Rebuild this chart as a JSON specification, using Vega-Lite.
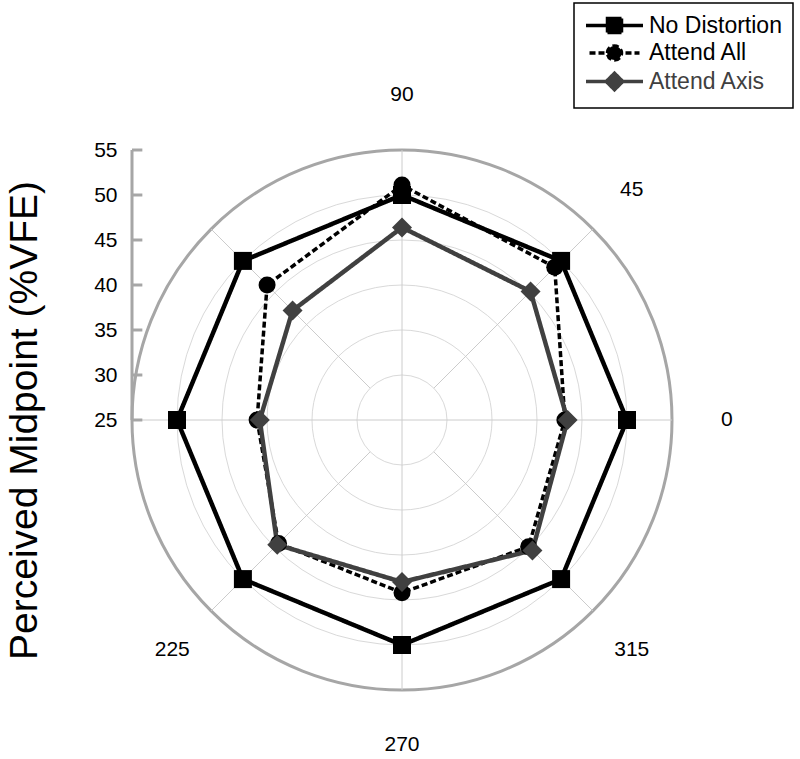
{
  "$schema": "https://vega.github.io/schema/vega-lite/v6.json",
  "width": 540,
  "height": 540,
  "autosize": {"type": "none"},
  "padding": {"left": 132, "top": 150, "right": 128, "bottom": 69},
  "config": {"view": {"stroke": null}, "font": "Liberation Sans"},
  "resolve": {
    "scale": {"size": "independent"},
    "axis": {"x": "independent", "y": "independent"}
  },
  "datasets": {
    "levels": [
      {"level": 25}, {"level": 30}, {"level": 35}, {"level": 40},
      {"level": 45}, {"level": 50}, {"level": 55}
    ],
    "angles": [
      {"angle": 0, "label": "0"}, {"angle": 45, "label": "45"},
      {"angle": 90, "label": "90"}, {"angle": 135, "label": "135"},
      {"angle": 180, "label": "180"}, {"angle": 225, "label": "225"},
      {"angle": 270, "label": "270"}, {"angle": 315, "label": "315"}
    ],
    "results": [
      {"series": "Attend All", "angle": 0, "value": 43.1},
      {"series": "Attend All", "angle": 45, "value": 49.0},
      {"series": "Attend All", "angle": 90, "value": 51.1},
      {"series": "Attend All", "angle": 135, "value": 46.2},
      {"series": "Attend All", "angle": 180, "value": 41.1},
      {"series": "Attend All", "angle": 225, "value": 44.4},
      {"series": "Attend All", "angle": 270, "value": 44.2},
      {"series": "Attend All", "angle": 315, "value": 44.9},
      {"series": "Attend Axis", "angle": 0, "value": 43.4},
      {"series": "Attend Axis", "angle": 45, "value": 45.2},
      {"series": "Attend Axis", "angle": 90, "value": 46.4},
      {"series": "Attend Axis", "angle": 135, "value": 42.2},
      {"series": "Attend Axis", "angle": 180, "value": 40.8},
      {"series": "Attend Axis", "angle": 225, "value": 44.6},
      {"series": "Attend Axis", "angle": 270, "value": 43.0},
      {"series": "Attend Axis", "angle": 315, "value": 45.5},
      {"series": "No Distortion", "angle": 0, "value": 50},
      {"series": "No Distortion", "angle": 45, "value": 50},
      {"series": "No Distortion", "angle": 90, "value": 50},
      {"series": "No Distortion", "angle": 135, "value": 50},
      {"series": "No Distortion", "angle": 180, "value": 50},
      {"series": "No Distortion", "angle": 225, "value": 50},
      {"series": "No Distortion", "angle": 270, "value": 50},
      {"series": "No Distortion", "angle": 315, "value": 50}
    ]
  },
  "layer": [
    {
      "data": {"name": "levels"},
      "transform": [
        {"filter": "datum.level > 25 && datum.level < 55"},
        {"calculate": "datum.level - 25", "as": "r"}
      ],
      "mark": {"type": "point", "shape": "circle", "filled": false, "stroke": "#d9d9d9", "strokeWidth": 1, "opacity": 1},
      "encoding": {
        "x": {"datum": 0, "type": "quantitative", "scale": {"domain": [-30, 30]}, "axis": null},
        "y": {"datum": 0, "type": "quantitative", "scale": {"domain": [-30, 30]}, "axis": null},
        "size": {"field": "r", "type": "quantitative", "scale": {"type": "pow", "exponent": 2, "domain": [0, 30], "range": [0, 291600]}, "legend": null}
      }
    },
    {
      "data": {"name": "levels"},
      "transform": [
        {"filter": "datum.level == 55"},
        {"calculate": "datum.level - 25", "as": "r"}
      ],
      "mark": {"type": "point", "shape": "circle", "filled": false, "stroke": "#a6a6a6", "strokeWidth": 3, "opacity": 1},
      "encoding": {
        "x": {"datum": 0, "type": "quantitative", "scale": {"domain": [-30, 30]}, "axis": null},
        "y": {"datum": 0, "type": "quantitative", "scale": {"domain": [-30, 30]}, "axis": null},
        "size": {"field": "r", "type": "quantitative", "scale": {"type": "pow", "exponent": 2, "domain": [0, 30], "range": [0, 291600]}, "legend": null}
      }
    },
    {
      "data": {"name": "angles"},
      "transform": [
        {"calculate": "datum.angle % 90 == 0 ? 0 : 5", "as": "r0"},
        {"calculate": "datum.r0 * cos(datum.angle * PI / 180)", "as": "x0"},
        {"calculate": "datum.r0 * sin(datum.angle * PI / 180)", "as": "y0"},
        {"calculate": "30 * cos(datum.angle * PI / 180)", "as": "x1"},
        {"calculate": "30 * sin(datum.angle * PI / 180)", "as": "y1"}
      ],
      "mark": {"type": "rule", "stroke": "#cccccc", "strokeWidth": 1},
      "encoding": {
        "x": {"field": "x0", "type": "quantitative", "scale": {"domain": [-30, 30]}, "axis": null},
        "y": {"field": "y0", "type": "quantitative", "scale": {"domain": [-30, 30]}, "axis": null},
        "x2": {"field": "x1"},
        "y2": {"field": "y1"}
      }
    },
    {
      "data": {"name": "levels"},
      "transform": [{"calculate": "datum.level - 25", "as": "r"}],
      "mark": {"type": "rule", "stroke": "#a6a6a6", "strokeWidth": 3},
      "encoding": {
        "x": {"datum": -30, "type": "quantitative", "scale": {"domain": [-30, 30]}, "axis": null},
        "x2": {"datum": -28.85},
        "y": {
          "field": "r", "type": "quantitative", "scale": {"domain": [-30, 30]},
          "axis": {
            "values": [0, 5, 10, 15, 20, 25, 30],
            "labelExpr": "'' + (datum.value + 25)",
            "domain": false, "ticks": false, "grid": false,
            "labelFont": "Liberation Sans", "labelFontSize": 21, "labelColor": "#000000",
            "labelPadding": 15,
            "title": "Perceived Midpoint (%VFE)",
            "titleFont": "Liberation Sans", "titleFontSize": 39, "titleFontWeight": "normal",
            "titleColor": "#000000", "titlePadding": 49
          }
        }
      }
    },
    {
      "data": {"name": "levels"},
      "transform": [{"calculate": "datum.level - 25", "as": "r"}],
      "mark": {"type": "rule", "stroke": "#a6a6a6", "strokeWidth": 3},
      "encoding": {
        "x": {"datum": -30, "type": "quantitative", "scale": {"domain": [-30, 30]}, "axis": null},
        "y": {"aggregate": "min", "field": "r", "type": "quantitative", "scale": {"domain": [-30, 30]}, "axis": null},
        "y2": {"aggregate": "max", "field": "r"}
      }
    },
    {
      "data": {"name": "results"},
      "transform": [
        {"calculate": "(datum.value - 25) * cos(datum.angle * PI / 180)", "as": "x"},
        {"calculate": "(datum.value - 25) * sin(datum.angle * PI / 180)", "as": "y"}
      ],
      "mark": {"type": "line", "interpolate": "linear-closed"},
      "encoding": {
        "x": {"field": "x", "type": "quantitative", "scale": {"domain": [-30, 30]}, "axis": null},
        "y": {"field": "y", "type": "quantitative", "scale": {"domain": [-30, 30]}, "axis": null},
        "order": {"field": "angle", "type": "quantitative"},
        "detail": {"field": "series", "type": "nominal"},
        "color": {"condition": {"test": "datum.series === 'Attend Axis'", "value": "#404040"}, "value": "#000000"},
        "strokeWidth": {"condition": {"test": "datum.series === 'Attend All'", "value": 3.5}, "value": 4.5},
        "strokeDash": {
          "field": "series", "type": "nominal",
          "scale": {"domain": ["No Distortion", "Attend All", "Attend Axis"], "range": [[1, 0], [6, 3], [1, 0]]},
          "legend": {
            "title": null,
            "orient": "none",
            "legendX": 442,
            "legendY": -147,
            "strokeColor": "#000000",
            "fillColor": "#ffffff",
            "padding": 11,
            "symbolSize": 100,
            "symbolStrokeWidth": 3.5,
            "symbolOffset": 18,
            "labelOffset": 23,
            "labelFont": "Liberation Sans",
            "labelFontSize": 23,
            "labelColor": "#000000",
            "labelLimit": 300,
            "rowPadding": -1.5,
            "encoding": {
              "legend": {"strokeWidth": {"value": 1.5}},
              "symbols": {
                "shape": {
                  "condition": [
                    {"test": "datum.value === 'No Distortion'", "value": "M-5.7,0H5.7M-1.4,-1.4H1.4V1.4H-1.4Z"},
                    {"test": "datum.value === 'Attend All'", "value": "M-5,0H5M-1.4,0A1.4,1.4,0,1,1,1.4,0A1.4,1.4,0,1,1,-1.4,0Z"}
                  ],
                  "value": "M-5.7,0H5.7M-1.65,0L0,-1.65L1.65,0L0,1.65Z"
                },
                "fill": {"condition": {"test": "datum.value === 'Attend Axis'", "value": "#404040"}, "value": "#000000"},
                "stroke": {"condition": {"test": "datum.value === 'Attend Axis'", "value": "#404040"}, "value": "#000000"},
                "strokeWidth": {"value": 3.5},
                "size": {"value": 100},
                "opacity": {"value": 1}
              },
              "labels": {
                "fill": {"condition": {"test": "datum.value === 'Attend Axis'", "value": "#404040"}, "value": "#000000"}
              }
            }
          }
        }
      }
    },
    {
      "data": {"name": "results"},
      "transform": [
        {"calculate": "(datum.value - 25) * cos(datum.angle * PI / 180)", "as": "x"},
        {"calculate": "(datum.value - 25) * sin(datum.angle * PI / 180)", "as": "y"}
      ],
      "mark": {"type": "point", "filled": true, "opacity": 1},
      "encoding": {
        "x": {"field": "x", "type": "quantitative", "scale": {"domain": [-30, 30]}, "axis": null},
        "y": {"field": "y", "type": "quantitative", "scale": {"domain": [-30, 30]}, "axis": null},
        "fill": {"condition": {"test": "datum.series === 'Attend Axis'", "value": "#404040"}, "value": "#000000"},
        "size": {"condition": [{"test": "datum.series === 'Attend Axis'", "value": 400}, {"test": "datum.series === 'Attend All'", "value": 289}], "value": 324},
        "shape": {"condition": [{"test": "datum.series === 'No Distortion'", "value": "square"}, {"test": "datum.series === 'Attend All'", "value": "circle"}], "value": "diamond"}
      }
    },
    {
      "data": {"name": "angles"},
      "transform": [
        {"filter": "datum.angle != 135 && datum.angle != 180"},
        {"calculate": "36.1 * cos(datum.angle * PI / 180)", "as": "x"},
        {"calculate": "36.1 * sin(datum.angle * PI / 180)", "as": "y"}
      ],
      "mark": {"type": "text", "font": "Liberation Sans", "fontSize": 21, "color": "#000000", "align": "center", "baseline": "middle"},
      "encoding": {
        "x": {"field": "x", "type": "quantitative", "scale": {"domain": [-30, 30]}, "axis": null},
        "y": {"field": "y", "type": "quantitative", "scale": {"domain": [-30, 30]}, "axis": null},
        "text": {"field": "label", "type": "nominal"}
      }
    }
  ]
}
